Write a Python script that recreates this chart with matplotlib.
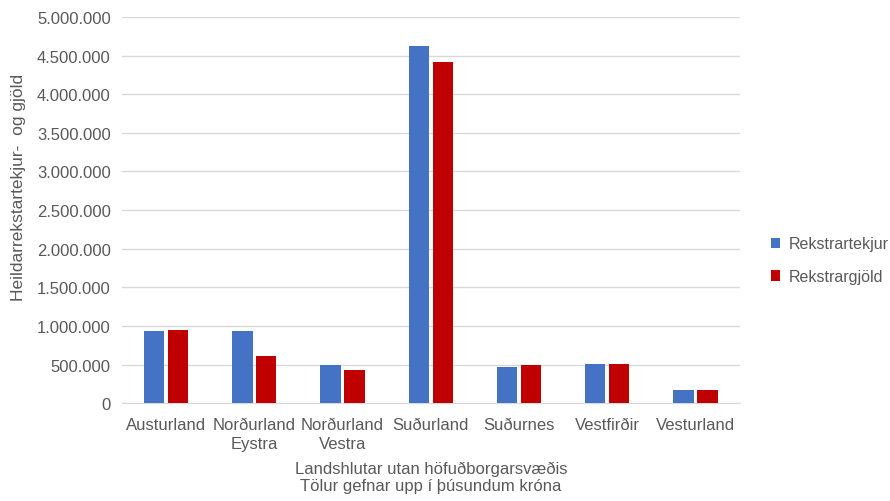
import matplotlib.pyplot as plt
import numpy as np

plt.rcParams['font.family'] = ['Liberation Sans', 'DejaVu Sans']

svaedi = ['Austurland', 'Norðurland\nEystra', 'Norðurland\nVestra', 'Suðurland',
          'Suðurnes', 'Vestfirðir', 'Vesturland']
tekjur = [930000, 930000, 500000, 4620000, 465000, 505000, 172000]
gjold = [945000, 613000, 432000, 4420000, 490000, 505000, 172000]
y_ticks = [0, 500000, 1000000, 1500000, 2000000, 2500000, 3000000,
           3500000, 4000000, 4500000, 5000000]

grar = '#595959'
fig = plt.figure(figsize=(8.9, 5.02), dpi=100)
ax = fig.add_axes([0.137, 0.195, 0.694, 0.769])

x = np.arange(len(svaedi))
b = 0.23
ax.bar(x - b/2 - 0.02, tekjur, b, color='#4472C4', label='Rekstrartekjur', zorder=3)
ax.bar(x + b/2 + 0.02, gjold, b, color='#C00000', label='Rekstrargjöld', zorder=3)

ax.set_xlim(-0.5, len(svaedi) - 0.5)
ax.set_ylim(0, 5000000)
ax.set_yticks(y_ticks)
ax.set_yticklabels([f'{v:,}'.replace(',', '.') for v in y_ticks])
ax.set_xticks(x)
ax.set_xticklabels(svaedi, linespacing=1.3)
ax.tick_params(axis='both', length=0, labelsize=12, colors=grar)
ax.tick_params(axis='y', pad=8)
ax.tick_params(axis='x', pad=10)
ax.grid(axis='y', color='#D9D9D9', linewidth=1, zorder=0)
for s in ['top', 'right', 'left']:
    ax.spines[s].set_visible(False)
ax.spines['bottom'].set_color('#D9D9D9')

ax.set_ylabel('Heildarrekstartekjur-  og gjöld', fontsize=12.5, color=grar)
ax.yaxis.set_label_coords(-0.155, 0.56)
ax.set_xlabel('Landshlutar utan höfuðborgarsvæðis\nTölur gefnar upp í þúsundum króna',
              fontsize=12, color=grar, labelpad=7, linespacing=1.2)

leg = ax.legend(loc='center left', bbox_to_anchor=(1.035, 0.37), frameon=False,
                fontsize=11.5, handlelength=0.6, handleheight=0.6,
                handletextpad=0.5, labelspacing=1.1, borderaxespad=0.2)
for t in leg.get_texts():
    t.set_color(grar)

fig.savefig('out.png', dpi=100)
